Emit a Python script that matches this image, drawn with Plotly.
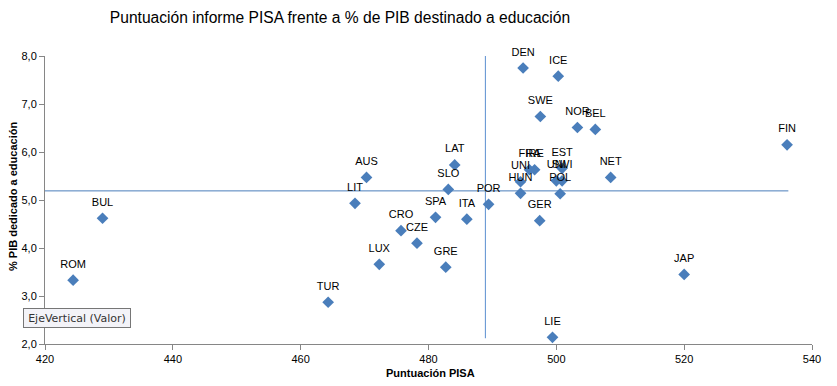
import plotly.graph_objects as go

# Country codes (labels), PISA score (x) and % GDP on education (y)
paises = ["DEN", "ICE", "SWE", "NOR", "BEL", "FIN", "NET", "FRA", "IRE", "UNI", "HUN",
          "EST", "UNI", "SWI", "POL", "GER", "POR", "LAT", "SLO", "AUS", "LIT", "SPA",
          "ITA", "CRO", "CZE", "LUX", "GRE", "BUL", "ROM", "TUR", "JAP", "LIE"]
pisa = [494.8, 500.3, 497.5, 503.3, 506.1, 536.1, 508.5, 495.8, 496.6, 494.4, 494.4,
        500.9, 500.0, 500.9, 500.6, 497.4, 489.4, 484.1, 483.1, 470.3, 468.5, 481.1,
        486.0, 475.7, 478.2, 472.3, 482.7, 429.0, 424.4, 464.3, 520.0, 499.4]
pib = [7.75, 7.58, 6.74, 6.51, 6.47, 6.15, 5.47, 5.63, 5.63, 5.38, 5.14,
       5.66, 5.40, 5.40, 5.13, 4.57, 4.91, 5.73, 5.22, 5.47, 4.93, 4.64,
       4.60, 4.36, 4.10, 3.66, 3.60, 4.62, 3.33, 2.87, 3.45, 2.14]

# Reference (mean) lines
linea_h_x = [420, 536.3]
linea_h_y = [5.19, 5.19]
linea_v_x = [488.9, 488.9]
linea_v_y = [2.12, 8.17]

x_ticks = [420, 440, 460, 480, 500, 520, 540]
y_ticks = [2.0, 3.0, 4.0, 5.0, 6.0, 7.0, 8.0]

azul = "#4A7EBB"
gris = "#868686"
fuente = "Liberation Sans, Arial, sans-serif"

# The page body has an 8px margin; the figure is sized to fit inside the window.
W, H = 821, 370
L, R, T, B = 37, 17, 48, 34
PW, PH = W - L - R, H - T - B

fig = go.Figure()
fig.add_trace(go.Scatter(x=linea_h_x, y=linea_h_y, mode="lines",
                         line=dict(color=azul, width=1), hoverinfo="skip", showlegend=False))
fig.add_trace(go.Scatter(x=linea_v_x, y=linea_v_y, mode="lines",
                         line=dict(color="#5B8FD0", width=1), hoverinfo="skip", showlegend=False))
# markers
fig.add_trace(go.Scatter(
    x=pisa, y=pib, mode="markers",
    marker=dict(symbol="diamond", size=9, color=azul),
    showlegend=False, cliponaxis=False))
# data labels (placed above a transparent, slightly larger marker for spacing)
fig.add_trace(go.Scatter(
    x=pisa, y=pib, mode="markers+text", text=paises, textposition="top center",
    textfont=dict(family=fuente, size=11, color="#000000"),
    marker=dict(symbol="diamond", size=14, color="rgba(0,0,0,0)"),
    hoverinfo="skip", showlegend=False, cliponaxis=False))

fig.update_layout(
    width=W, height=H,
    margin=dict(l=L, r=R, t=T, b=B),
    paper_bgcolor="white", plot_bgcolor="white",
    separators=",.",
    font=dict(family=fuente, size=11, color="#000000"),
    title=dict(text="Puntuación informe PISA frente a % de PIB destinado a educación",
               x=332 / W, xanchor="center", y=1 - 10 / H, yanchor="middle",
               font=dict(family=fuente, size=15.6, color="#000000")),
    xaxis=dict(range=[420, 540], tickvals=x_ticks, showgrid=False, zeroline=False,
               showline=True, linecolor=gris, linewidth=1, ticks="outside",
               tickcolor=gris, ticklen=5, tickfont=dict(size=11), automargin=False),
    yaxis=dict(range=[2, 8], tickvals=y_ticks, tickformat=".1f", showgrid=False,
               zeroline=False, showline=True, linecolor=gris, linewidth=1,
               ticks="outside", tickcolor=gris, ticklen=5, tickfont=dict(size=11),
               automargin=False),
    annotations=[
        dict(text="<b>Puntuación PISA</b>", xref="paper", yref="paper",
             x=(422 - L) / PW, y=(H - B - 365) / PH, xanchor="center", yanchor="middle",
             showarrow=False, font=dict(family=fuente, size=11, color="#000000")),
        dict(text="<b>% PIB dedicado a educación</b>", xref="paper", yref="paper",
             x=(5 - L) / PW, y=(H - B - 189) / PH, xanchor="center", yanchor="middle",
             textangle=-90, showarrow=False,
             font=dict(family=fuente, size=11, color="#000000")),
        dict(text="EjeVertical (Valor)", xref="paper", yref="paper",
             x=(68.5 - L) / PW, y=(H - B - 309.5) / PH, xanchor="center", yanchor="middle",
             showarrow=False, font=dict(family="DejaVu Sans, sans-serif", size=11, color="#333333"),
             bgcolor="#F3F3F8", bordercolor="#767676", borderwidth=1, borderpad=2,
             width=102, height=14),
    ],
)

fig.write_html("out.html")
